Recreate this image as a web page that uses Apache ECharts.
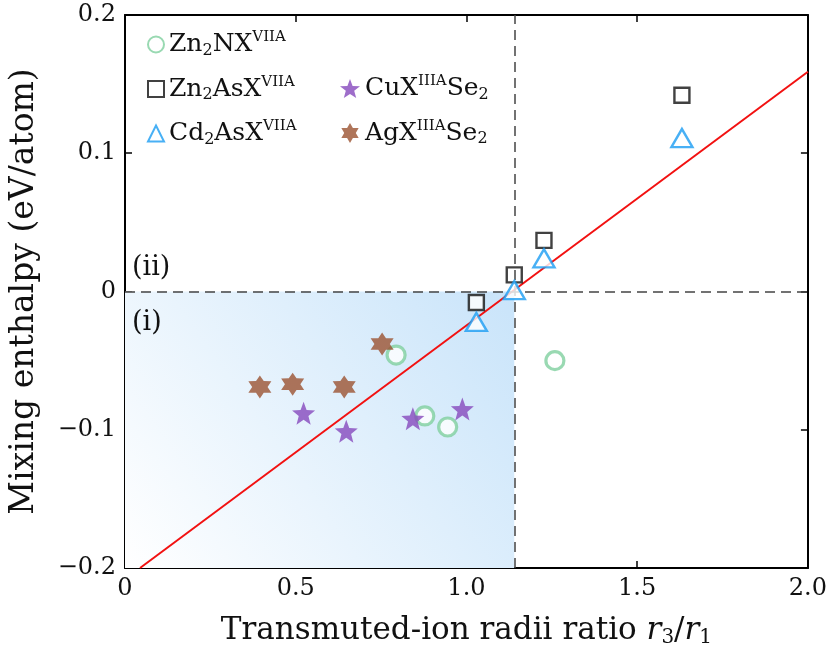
<!DOCTYPE html>
<html><head><meta charset="utf-8">
<script src="https://cdn.jsdelivr.net/npm/echarts@6/dist/echarts.min.js"></script>
<style>html,body{margin:0;padding:0;background:#fff}#c{width:830px;height:659px}</style>
</head><body><div id="c"></div>
<script>
// ---- data ----
const zn2nX = [0.794, 0.878, 0.945, 1.259];
const zn2nY = [-0.046, -0.090, -0.098, -0.050];
const zn2asX = [1.029, 1.140, 1.227, 1.631];
const zn2asY = [-0.008, 0.012, 0.037, 0.142];
const cd2asX = [1.029, 1.140, 1.227, 1.631];
const cd2asY = [-0.022, 0.001, 0.024, 0.111];
const cuX = [0.523, 0.648, 0.843, 0.988];
const cuY = [-0.088, -0.101, -0.092, -0.085];
const agX = [0.395, 0.491, 0.642, 0.753];
const agY = [-0.069, -0.067, -0.069, -0.038];
const fitX = [0.044, 2.0];
const fitY = [-0.2, 0.159];
const xCut = 1.14;
const xTicks = [0, 0.5, 1.0, 1.5, 2.0];
const yTicks = [-0.2, -0.1, 0, 0.1, 0.2];

const zip = (a, b) => a.map((v, i) => [v, b[i]]);
function starPath(n, rIn) {
  let pts = [];
  for (let i = 0; i < 2 * n; i++) {
    const r = i % 2 === 0 ? 1 : rIn;
    const a = -Math.PI / 2 + i * Math.PI / n;
    pts.push((50 + 50 * r * Math.cos(a)).toFixed(2) + ',' + (50 + 50 * r * Math.sin(a)).toFixed(2));
  }
  return 'path://M' + pts.join('L') + 'Z';
}
const star5 = starPath(5, 0.42);
const star6 = starPath(6, 0.58);

const FONT = '"DejaVu Serif", "Liberation Serif", serif';
const names = {
  'Zn2NX': '{n|Zn}{sub|2}{n|NX}{sup|VIIA}',
  'Zn2AsX': '{n|Zn}{sub|2}{n|AsX}{sup|VIIA}',
  'Cd2AsX': '{n|Cd}{sub|2}{n|AsX}{sup|VIIA}',
  'CuXSe2': '{n|CuX}{sup|IIIA}{n|Se}{sub|2}',
  'AgXSe2': '{n|AgX}{sup|IIIA}{n|Se}{sub|2}'
};
const rich = {
  n: {fontFamily: FONT, fontSize: 25, color: '#111'},
  sub: {fontFamily: FONT, fontSize: 16, color: '#111', padding: [12, 0, 0, 0]},
  sup: {fontFamily: FONT, fontSize: 15, color: '#111', padding: [0, 0, 14, 0]}
};
const fmtTick = v => {
  const s = (Math.abs(v) < 1e-9) ? '0' : String(Math.round(v * 10) / 10);
  return s.replace('-', '\u2212');
};

const chart = echarts.init(document.getElementById('c'));
const axisCommon = {
  type: 'value',
  axisLine: {show: true, onZero: false, lineStyle: {color: '#000', width: 2}},
  axisTick: {show: true, inside: true, length: 7, lineStyle: {color: '#000', width: 1.5}},
  splitLine: {show: false},
  axisLabel: {fontFamily: FONT, fontSize: 24, color: '#111', formatter: fmtTick}
};
chart.setOption({
  animation: false,
  grid: {left: 122, right: 20, top: 15, bottom: 91},
  legend: [{
    orient: 'vertical', left: 142, top: 25, itemGap: 16, itemWidth: 16, itemHeight: 16,
    data: ['Zn2NX', 'Zn2AsX', 'Cd2AsX'],
    formatter: n => names[n], textStyle: {rich: rich}
  }, {
    orient: 'vertical', left: 335, top: 69, itemGap: 16, itemWidth: 20, itemHeight: 20,
    data: ['CuXSe2', 'AgXSe2'],
    formatter: n => names[n], textStyle: {rich: rich}
  }],
  xAxis: [Object.assign({}, axisCommon, {
    min: 0, max: 2, interval: 0.5, position: 'bottom',
    axisLabel: Object.assign({}, axisCommon.axisLabel, {margin: 9, formatter: v => (v === 0 ? '0' : v.toFixed(1))}),
    name: 'Transmuted-ion radii ratio {i|r}{s|3}/{i|r}{s|1}', nameLocation: 'middle', nameGap: 46,
    nameTextStyle: {fontFamily: FONT, fontSize: 31, color: '#111',
      rich: {i: {fontFamily: FONT, fontStyle: 'italic', fontSize: 31, color: '#111'},
             s: {fontFamily: FONT, fontSize: 20, color: '#111', padding: [14, 0, 0, 0]}}}
  }), Object.assign({}, axisCommon, {
    min: 0, max: 2, interval: 0.5, position: 'top', axisLabel: {show: false}
  })],
  yAxis: [Object.assign({}, axisCommon, {
    min: -0.2, max: 0.2, interval: 0.1, position: 'left',
    axisLabel: Object.assign({}, axisCommon.axisLabel, {margin: 9}),
    name: 'Mixing enthalpy (eV/atom)', nameLocation: 'middle', nameGap: 84,
    nameTextStyle: {fontFamily: FONT, fontSize: 33, color: '#111'}
  }), Object.assign({}, axisCommon, {
    min: -0.2, max: 0.2, interval: 0.1, position: 'right', axisLabel: {show: false}
  })],
  series: [
    {
      type: 'line', name: 'fit', data: zip(fitX, fitY), showSymbol: false, symbol: 'none',
      lineStyle: {color: '#f21111', width: 2}, z: 3,
      markArea: {
        silent: true,
        itemStyle: {color: new echarts.graphic.LinearGradient(0, 1, 1, 0, [
          {offset: 0, color: '#ffffff'}, {offset: 1, color: '#c9e4fa'}])},
        data: [[{coord: [0, -0.2]}, {coord: [xCut, 0]}]]
      },
      markLine: {
        silent: true, symbol: 'none', label: {show: false},
        lineStyle: {color: '#444', width: 1.5, type: [10, 6]},
        data: [{yAxis: 0}, {xAxis: xCut}]
      }
    },
    {type: 'scatter', name: 'Zn2NX', data: zip(zn2nX, zn2nY), symbol: 'circle', symbolSize: 18,
      itemStyle: {color: '#fff', borderColor: '#7fcf9f', borderWidth: 3.2}, z: 4},
    {type: 'scatter', name: 'Zn2AsX', data: zip(zn2asX, zn2asY), symbol: 'rect', symbolSize: 15,
      itemStyle: {color: '#fff', borderColor: '#111', borderWidth: 2.4}, z: 4},
    {type: 'scatter', name: 'Cd2AsX', data: zip(cd2asX, cd2asY), symbol: 'triangle', symbolSize: [21, 18],
      itemStyle: {color: '#fff', borderColor: '#1a9cf2', borderWidth: 2.4}, z: 5},
    {type: 'scatter', name: 'CuXSe2', data: zip(cuX, cuY), symbol: star5, symbolSize: 23,
      itemStyle: {color: '#8648bd'}, z: 4},
    {type: 'scatter', name: 'AgXSe2', data: zip(agX, agY), symbol: star6, symbolSize: 23,
      itemStyle: {color: '#9b5231'}, z: 4}
  ],
  graphic: [
    {type: 'text', left: 132, top: 254, z: 100, style: {text: '(ii)', font: '27px ' + FONT, fill: '#111'}},
    {type: 'text', left: 132, top: 309, z: 100, style: {text: '(i)', font: '27px ' + FONT, fill: '#111'}}
  ]
});
</script></body></html>
